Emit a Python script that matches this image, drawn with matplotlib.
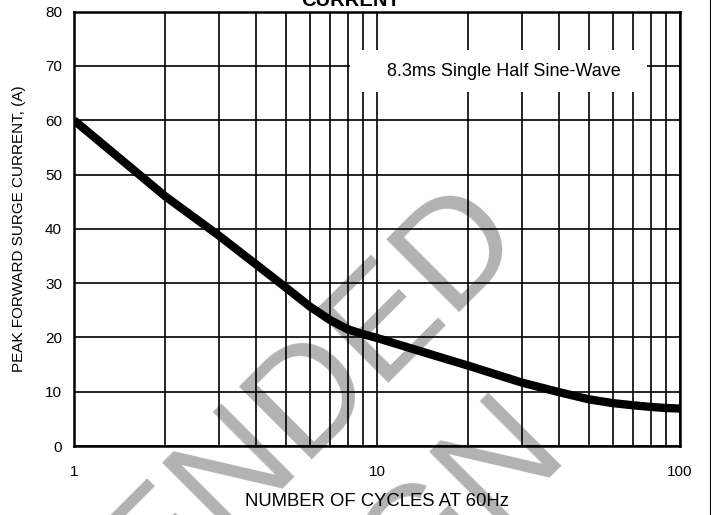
import matplotlib
matplotlib.use('Agg')
import matplotlib.pyplot as plt
from matplotlib.patches import Rectangle
from matplotlib.lines import Line2D
from matplotlib.ticker import FixedLocator, NullFormatter

# curve (cycles at 60Hz -> peak surge current, A)
cycles = [1, 2, 3, 4, 5, 6, 7, 8, 9, 10, 15, 20, 30, 40, 50, 60, 70, 80, 90, 100]
surge = [60, 46, 38.8, 33.4, 29.2, 25.7, 23.2, 21.5, 20.6, 19.9, 16.9, 14.8, 11.7,
         9.9, 8.6, 7.9, 7.5, 7.2, 7.0, 6.9]

x_ticks = [1, 10, 100]
x_tick_labels = ['1', '10', '100']
x_minor = [2, 3, 4, 5, 6, 7, 8, 9, 20, 30, 40, 50, 60, 70, 80, 90]
y_ticks = [0, 10, 20, 30, 40, 50, 60, 70, 80]

plt.rcParams['font.family'] = ['Liberation Sans', 'DejaVu Sans']

W, H = 711, 515
fig = plt.figure(figsize=(W / 100, H / 100), dpi=100)
fig.patch.set_facecolor('white')

# axes box in pixels: x 74..680, y 11.7..446
ax = fig.add_axes([74 / W, 1 - 446 / H, 606 / W, 434.3 / H])
ax.set_facecolor('none')

ax.set_xscale('log')
ax.set_xlim(1, 100)
ax.set_ylim(0, 80)
ax.set_xticks(x_ticks)
ax.set_xticklabels(x_tick_labels)
ax.xaxis.set_minor_locator(FixedLocator(x_minor))
ax.xaxis.set_minor_formatter(NullFormatter())
ax.set_yticks(y_ticks)

ax.tick_params(which='both', length=0, labelsize=11)
ax.tick_params(axis='x', pad=14)
ax.tick_params(axis='y', pad=8.6)
ax.grid(True, which='both', color='black', linewidth=1.2)
for s in ax.spines.values():
    s.set_linewidth(1.8)

ax.plot(cycles, surge, color='black', linewidth=6, solid_capstyle='butt',
        solid_joinstyle='round', zorder=3)

# white box behind the note
ax.add_patch(Rectangle((0.455, 0.815), 0.491, 0.097, transform=ax.transAxes,
                       facecolor='white', edgecolor='none', zorder=2.5))
ax.text(0.7096, 0.862, '8.3ms Single Half Sine-Wave', transform=ax.transAxes,
        ha='center', va='center', fontsize=13, zorder=4)

ax.set_xlabel('NUMBER OF CYCLES AT 60Hz', fontsize=13.3)
ax.xaxis.set_label_coords(0.5, -0.108)
ax.set_ylabel('PEAK FORWARD SURGE CURRENT, (A)', fontsize=11)
ax.yaxis.set_label_coords(-0.079, 0.5)

# title cut off at the top of the crop
fig.text(351 / W, 1 - 6.5 / H, 'CURRENT', ha='center', va='baseline',
         fontsize=14.5, fontweight='bold')

# watermark behind the grid
wm = dict(color='#b2b2b2', fontsize=108, rotation=45, rotation_mode='anchor',
          ha='right', va='baseline', zorder=-1)
fig.text(528 / W, 1 - 244 / H, 'NOT RECOMMENDED', **wm)
fig.text(571 / W, 1 - 457 / H, 'FOR NEW DESIGN', **wm)

# thin page edge on the right
fig.add_artist(Line2D([709.5 / W, 709.5 / W], [0, 1], transform=fig.transFigure,
                      color='black', linewidth=0.8))

fig.savefig('out.png', dpi=100)
